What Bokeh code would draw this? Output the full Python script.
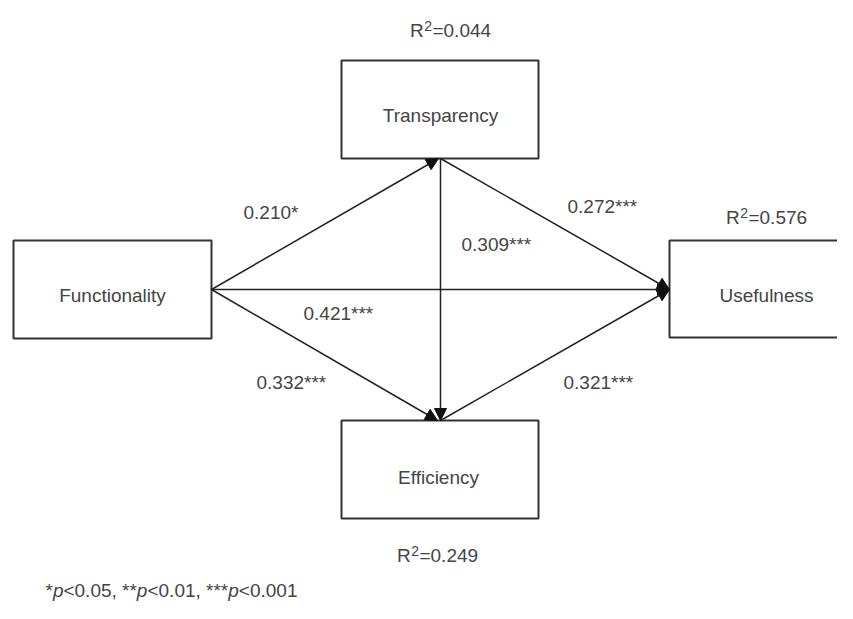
from bokeh.plotting import figure
from bokeh.models import Arrow, NormalHead, ColumnDataSource, Range1d
from bokeh.core.properties import value
from bokeh.embed import file_html
from bokeh.resources import INLINE

# ---- data ----
constructs = ["Functionality", "Transparency", "Efficiency", "Usefulness"]
r2_targets = ["Transparency", "Efficiency", "Usefulness"]
r2_values = [0.044, 0.249, 0.576]
path_from = ["Functionality", "Functionality", "Functionality", "Transparency", "Efficiency", "Transparency"]
path_to = ["Transparency", "Usefulness", "Efficiency", "Usefulness", "Usefulness", "Efficiency"]
path_coef = [0.210, 0.421, 0.332, 0.272, 0.321, 0.309]
path_sig = ["*", "***", "***", "***", "***", "***"]
footnote_parts = ["*", "p", "<0.05, **", "p", "<0.01, ***", "p", "<0.001"]
footnote_italic = [False, True, False, True, False, True, False]

# ---- layout (picture pixel coordinates) ----
W, H = 837, 603
box = {  # left, right, top, bottom
    "Functionality": (13, 211, 240, 338),
    "Transparency": (341, 538, 60, 158),
    "Efficiency": (341, 538, 420, 518),
    "Usefulness": (669, 880, 240, 337),
}
label_pos = {
    "Functionality": (112, 295),
    "Transparency": (440, 115),
    "Efficiency": (438, 477),
    "Usefulness": (766, 295),
}
r2_pos = {"Transparency": (450, 30), "Efficiency": (437, 555), "Usefulness": (766, 217)}
edge_pts = {
    ("Functionality", "Transparency"): ((211, 289), (438, 158)),
    ("Functionality", "Usefulness"): ((211, 289), (669, 289)),
    ("Functionality", "Efficiency"): ((211, 289), (437, 420)),
    ("Transparency", "Usefulness"): ((440, 158), (669, 289)),
    ("Efficiency", "Usefulness"): ((440, 420), (669, 289)),
    ("Transparency", "Efficiency"): ((440, 158), (440, 420)),
}
coef_pos = {
    ("Functionality", "Transparency"): (243, 212),
    ("Functionality", "Usefulness"): (303, 313),
    ("Functionality", "Efficiency"): (256, 382),
    ("Transparency", "Usefulness"): (567, 206),
    ("Efficiency", "Usefulness"): (563, 382),
    ("Transparency", "Efficiency"): (461, 244),
}
foot_x0 = 45
foot_y = 590

FONT = value("Liberation Sans")
FS_PX = 19
FS = "%dpx" % FS_PX
SUP_PX = 14
TXT = "#444444"

# Arial/Liberation Sans advance widths (per 1000 em)
ADV = {"R": 722, "=": 584, "0": 556, "1": 556, "2": 556, "3": 556, "4": 556, "5": 556,
       "6": 556, "7": 556, "8": 556, "9": 556, ".": 278, ",": 278, " ": 278, "*": 389,
       "p": 556, "<": 584}


def width(s, px):
    return sum(ADV.get(ch, 556) for ch in s) * px / 1000.0


p = figure(width=W, height=H, output_backend="svg", toolbar_location=None,
           x_range=Range1d(0, W), y_range=Range1d(H, 0), min_border=0)
p.axis.visible = False
p.grid.visible = False
p.outline_line_color = None
p.background_fill_color = "white"
p.border_fill_color = "white"

# boxes
p.quad(left=[box[c][0] for c in constructs], right=[box[c][1] for c in constructs],
       top=[box[c][2] for c in constructs], bottom=[box[c][3] for c in constructs],
       fill_color="white", line_color="#333333", line_width=2)

# arrows
for a, b in zip(path_from, path_to):
    (x0, y0), (x1, y1) = edge_pts[(a, b)]
    p.add_layout(Arrow(x_start=x0, y_start=y0, x_end=x1, y_end=y1,
                       line_color="#222222", line_width=1.5,
                       end=NormalHead(size=12, fill_color="#111111", line_color="#111111", line_width=1)))

# construct labels
p.text(x=[label_pos[c][0] for c in constructs], y=[label_pos[c][1] for c in constructs],
       text=constructs, text_font=FONT, text_font_size=FS, text_color=TXT,
       text_align="center", text_baseline="alphabetic")

# R2 labels: "R" + superscript "2" + "=value"
rx, ry, sx, sy, vx, vy, vt = [], [], [], [], [], [], []
for c, v in zip(r2_targets, r2_values):
    cx, by = r2_pos[c]
    tail = "=%.3f" % v
    total = width("R", FS_PX) + width("2", SUP_PX) + 1 + width(tail, FS_PX)
    x0 = cx - total / 2
    rx.append(x0); ry.append(by)
    sx.append(x0 + width("R", FS_PX) + 0.5); sy.append(by - 5)
    vx.append(x0 + width("R", FS_PX) + width("2", SUP_PX) + 1); vy.append(by); vt.append(tail)
p.text(x=rx, y=ry, text=["R"] * len(rx), text_font=FONT, text_font_size=FS,
       text_color=TXT, text_align="left", text_baseline="alphabetic")
p.text(x=sx, y=sy, text=["2"] * len(sx), text_font=FONT, text_font_size="%dpx" % SUP_PX,
       text_color=TXT, text_align="left", text_baseline="alphabetic")
p.text(x=vx, y=vy, text=vt, text_font=FONT, text_font_size=FS,
       text_color=TXT, text_align="left", text_baseline="alphabetic")

# path coefficients
keys = list(zip(path_from, path_to))
p.text(x=[coef_pos[k][0] for k in keys], y=[coef_pos[k][1] for k in keys],
       text=["%.3f%s" % (c, s) for c, s in zip(path_coef, path_sig)],
       text_font=FONT, text_font_size=FS, text_color=TXT,
       text_align="left", text_baseline="alphabetic")

# footnote (italic p)
fx = []
cur = foot_x0
for part in footnote_parts:
    fx.append(cur)
    cur += width(part, FS_PX)
src = ColumnDataSource(dict(x=fx, y=[foot_y] * len(fx), t=footnote_parts,
                            st=["italic" if i else "normal" for i in footnote_italic]))
p.text(x="x", y="y", text="t", source=src, text_font=FONT, text_font_size=FS,
       text_font_style="st", text_color=TXT, text_align="left", text_baseline="alphabetic")

open("out.html", "w").write(file_html(p, INLINE))
